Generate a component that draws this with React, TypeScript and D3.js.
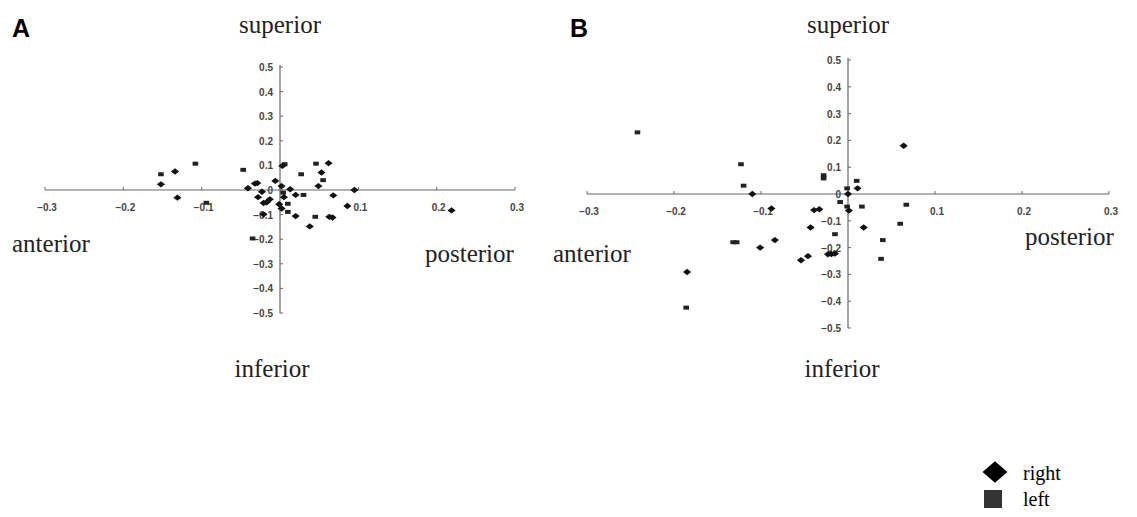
// Displacement scatter plots (A / B) with anatomical direction labels
import React, { useRef, useEffect } from 'react';
import * as d3 from 'd3';

type Pt = [number, number];

// Panel A
const aRight: Pt[] = [
  [-0.152, 0.023], [-0.134, 0.075], [-0.131, -0.031], [-0.041, 0.007], [-0.032, 0.026],
  [-0.029, 0.028], [-0.006, 0.037], [-0.023, -0.007], [-0.028, -0.029], [-0.013, -0.038],
  [-0.021, -0.053], [-0.017, -0.05], [-0.021, -0.099], [-0.001, -0.058], [0.002, -0.075],
  [0.002, 0.016], [0.005, -0.029], [0.013, 0.003], [0.003, 0.098], [0.02, -0.02],
  [0.02, -0.106], [0.038, -0.148], [0.062, 0.109], [0.053, 0.071], [0.049, 0.016],
  [0.068, -0.022], [0.063, -0.109], [0.067, -0.112], [0.086, -0.065], [0.095, 0.0],
  [0.219, -0.083],
];
const aLeft: Pt[] = [
  [-0.152, 0.064], [-0.108, 0.107], [-0.094, -0.052], [-0.047, 0.082], [-0.035, -0.197],
  [0.004, -0.011], [0.006, 0.105], [0.01, -0.056], [0.01, -0.089], [0.03, -0.02],
  [0.027, 0.064], [0.045, -0.109], [0.046, 0.107], [0.055, 0.04],
];

// Panel B
const bRight: Pt[] = [
  [-0.185, -0.291], [-0.11, 0.0], [-0.101, -0.2], [-0.084, -0.172], [-0.088, -0.054],
  [-0.054, -0.247], [-0.046, -0.232], [-0.043, -0.125], [-0.039, -0.06], [-0.033, -0.057],
  [-0.023, -0.225], [-0.019, -0.224], [-0.015, -0.222], [0.0, 0.0], [0.001, -0.062],
  [0.011, 0.021], [0.018, -0.125], [0.064, 0.18],
];
const bLeft: Pt[] = [
  [-0.242, 0.23], [-0.186, -0.424], [-0.123, 0.111], [-0.12, 0.031], [-0.132, -0.18],
  [-0.128, -0.18], [-0.028, 0.07], [-0.028, 0.058], [-0.015, -0.15], [-0.009, -0.03],
  [-0.001, 0.021], [-0.001, -0.047], [0.01, 0.049], [0.016, -0.047], [0.04, -0.172],
  [0.038, -0.242], [0.06, -0.111], [0.067, -0.04],
];

const xTicks = [-0.3, -0.2, -0.1, 0.1, 0.2, 0.3];
const yTicks = [0.5, 0.4, 0.3, 0.2, 0.1, 0, -0.1, -0.2, -0.3, -0.4, -0.5];

const PANELS = [
  {
    letter: 'A', right: aRight, left: aLeft,
    xr: [45, 515], yr: [313, 67],
    letterX: 12, sup: [280, 33], inf: [272, 377], ant: [12, 252], post: [425, 262],
  },
  {
    letter: 'B', right: bRight, left: bLeft,
    xr: [587, 1109], yr: [328, 60],
    letterX: 570, sup: [848, 33], inf: [842, 377], ant: [553, 262], post: [1025, 245],
  },
];

const SERIF = '"Liberation Serif", "DejaVu Serif", serif';
const SANS = '"Liberation Sans", Arial, sans-serif';

export default function App() {
  const svgRef = useRef<SVGSVGElement>(null);

  useEffect(() => {
    if (!svgRef.current) return;
    const svg = d3.select(svgRef.current);
    svg.selectAll('*').remove();

    const diamond = d3.symbol().type(d3.symbolDiamond2);
    const square = d3.symbol().type(d3.symbolSquare);

    PANELS.forEach((p) => {
      const g = svg.append('g');
      const x = d3.scaleLinear().domain([-0.3, 0.3]).range(p.xr);
      const y = d3.scaleLinear().domain([-0.5, 0.5]).range(p.yr);
      const axisCol = '#666';

      // panel letter
      g.append('text')
        .attr('x', p.letterX).attr('y', 37)
        .style('font-family', SANS).style('font-weight', 'bold').style('font-size', '25px')
        .text(p.letter);

      // horizontal axis
      g.append('line')
        .attr('x1', x(-0.3)).attr('x2', x(0.3)).attr('y1', y(0)).attr('y2', y(0))
        .attr('stroke', axisCol).attr('stroke-width', 1.2);
      g.selectAll('.xt').data(d3.range(-0.3, 0.31, 0.1)).join('line')
        .attr('x1', (d) => x(d)).attr('x2', (d) => x(d))
        .attr('y1', y(0)).attr('y2', y(0) - 3)
        .attr('stroke', axisCol);
      g.selectAll('.xl').data(xTicks).join('text')
        .attr('x', (d) => x(d) + 2).attr('y', y(0) + 21)
        .attr('text-anchor', 'middle')
        .style('font-family', SANS).style('font-size', '10px').style('font-weight', '600')
        .attr('fill', '#444')
        .text((d) => d3.format('.1f')(d));

      // vertical axis
      g.append('line')
        .attr('x1', x(0)).attr('x2', x(0)).attr('y1', y(0.5) - 2).attr('y2', y(-0.5))
        .attr('stroke', axisCol).attr('stroke-width', 1.2);
      g.selectAll('.yt').data(yTicks).join('line')
        .attr('x1', x(0)).attr('x2', x(0) + 3)
        .attr('y1', (d) => y(d)).attr('y2', (d) => y(d))
        .attr('stroke', axisCol);
      g.selectAll('.yl').data(yTicks).join('text')
        .attr('x', x(0) - 7).attr('y', (d) => y(d) + 4)
        .attr('text-anchor', 'end')
        .style('font-family', SANS).style('font-size', '10px').style('font-weight', '600')
        .attr('fill', '#444')
        .text((d) => (d === 0 ? '0' : d3.format('.1f')(d)));

      // points
      g.selectAll('.sq').data(p.left).join('path')
        .attr('d', square.size(22)())
        .attr('transform', (d) => `translate(${x(d[0])},${y(d[1])}) scale(1.2,0.85)`)
        .attr('fill', '#222');
      g.selectAll('.dm').data(p.right).join('path')
        .attr('d', diamond.size(32)())
        .attr('transform', (d) => `translate(${x(d[0])},${y(d[1])}) scale(1.15,0.9)`)
        .attr('fill', '#111');

      // direction labels
      const lab = (pos: number[], t: string, anchor: string) =>
        g.append('text')
          .attr('x', pos[0]).attr('y', pos[1])
          .attr('text-anchor', anchor)
          .style('font-family', SERIF).style('font-size', '25px')
          .attr('fill', '#222')
          .text(t);
      lab(p.sup, 'superior', 'middle');
      lab(p.inf, 'inferior', 'middle');
      lab(p.ant, 'anterior', 'start');
      lab(p.post, 'posterior', 'start');
    });

    // legend
    const lg = svg.append('g');
    lg.append('path')
      .attr('d', diamond.size(360)())
      .attr('transform', 'translate(995,472) scale(1.05,0.9)')
      .attr('fill', '#000');
    lg.append('text').attr('x', 1023).attr('y', 480)
      .style('font-family', SERIF).style('font-size', '20px').text('right');
    lg.append('rect').attr('x', 984).attr('y', 490).attr('width', 18).attr('height', 18)
      .attr('fill', '#333');
    lg.append('text').attr('x', 1023).attr('y', 506)
      .style('font-family', SERIF).style('font-size', '20px').text('left');
  }, []);

  return (
    <svg
      ref={svgRef}
      width={1137}
      height={517}
      style={{ position: 'absolute', left: 0, top: 0, background: '#fff' }}
    />
  );
}
